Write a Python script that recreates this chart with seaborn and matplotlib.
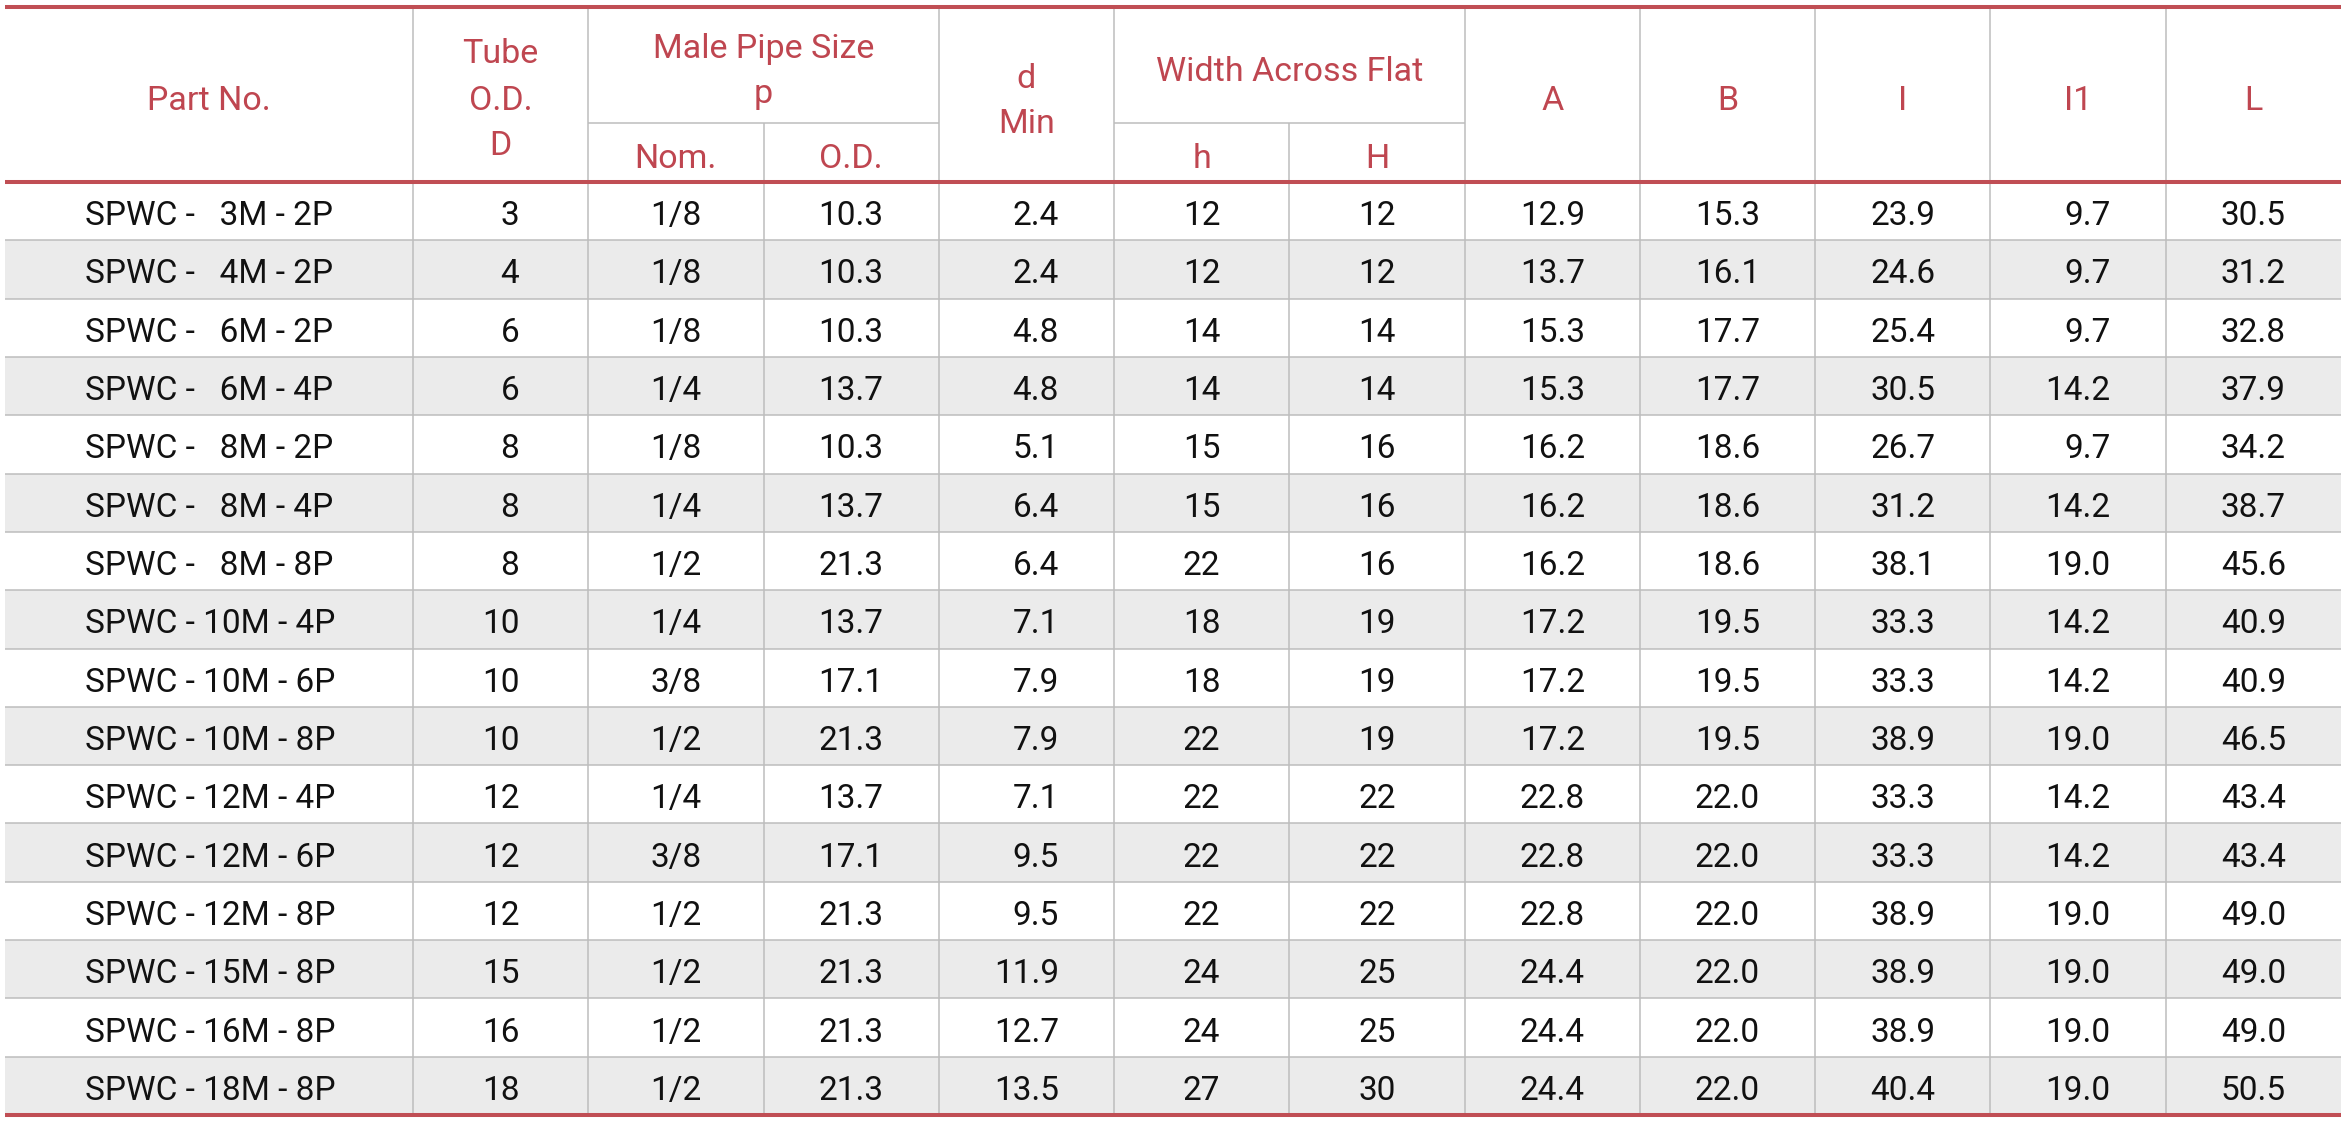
import numpy as np
import pandas as pd
import matplotlib
matplotlib.use("Agg")
import matplotlib.pyplot as plt
import seaborn as sns
from matplotlib.colors import ListedColormap

# Dati della tabella (SPWC)
part_no = ["SPWC -   3M - 2P", "SPWC -   4M - 2P", "SPWC -   6M - 2P", "SPWC -   6M - 4P",
           "SPWC -   8M - 2P", "SPWC -   8M - 4P", "SPWC -   8M - 8P", "SPWC - 10M - 4P",
           "SPWC - 10M - 6P", "SPWC - 10M - 8P", "SPWC - 12M - 4P", "SPWC - 12M - 6P",
           "SPWC - 12M - 8P", "SPWC - 15M - 8P", "SPWC - 16M - 8P", "SPWC - 18M - 8P"]
tube_od = [3, 4, 6, 6, 8, 8, 8, 10, 10, 10, 12, 12, 12, 15, 16, 18]
pipe_nom = ["1/8", "1/8", "1/8", "1/4", "1/8", "1/4", "1/2", "1/4",
            "3/8", "1/2", "1/4", "3/8", "1/2", "1/2", "1/2", "1/2"]
pipe_od = [10.3, 10.3, 10.3, 13.7, 10.3, 13.7, 21.3, 13.7, 17.1, 21.3, 13.7, 17.1, 21.3, 21.3, 21.3, 21.3]
d_min = [2.4, 2.4, 4.8, 4.8, 5.1, 6.4, 6.4, 7.1, 7.9, 7.9, 7.1, 9.5, 9.5, 11.9, 12.7, 13.5]
h_flat = [12, 12, 14, 14, 15, 15, 22, 18, 18, 22, 22, 22, 22, 24, 24, 27]
H_flat = [12, 12, 14, 14, 16, 16, 16, 19, 19, 19, 22, 22, 22, 25, 25, 30]
dim_A = [12.9, 13.7, 15.3, 15.3, 16.2, 16.2, 16.2, 17.2, 17.2, 17.2, 22.8, 22.8, 22.8, 24.4, 24.4, 24.4]
dim_B = [15.3, 16.1, 17.7, 17.7, 18.6, 18.6, 18.6, 19.5, 19.5, 19.5, 22.0, 22.0, 22.0, 22.0, 22.0, 22.0]
dim_I = [23.9, 24.6, 25.4, 30.5, 26.7, 31.2, 38.1, 33.3, 33.3, 38.9, 33.3, 33.3, 38.9, 38.9, 38.9, 40.4]
dim_I1 = [9.7, 9.7, 9.7, 14.2, 9.7, 14.2, 19.0, 14.2, 14.2, 19.0, 14.2, 14.2, 19.0, 19.0, 19.0, 19.0]
dim_L = [30.5, 31.2, 32.8, 37.9, 34.2, 38.7, 45.6, 40.9, 40.9, 46.5, 43.4, 43.4, 49.0, 49.0, 49.0, 50.5]

df = pd.DataFrame({
    "Part No.": part_no,
    "D": [str(v) for v in tube_od],
    "Nom.": pipe_nom,
    "O.D.": [f"{v:.1f}" for v in pipe_od],
    "d": [f"{v:.1f}" for v in d_min],
    "h": [str(v) for v in h_flat],
    "H": [str(v) for v in H_flat],
    "A": [f"{v:.1f}" for v in dim_A],
    "B": [f"{v:.1f}" for v in dim_B],
    "I": [f"{v:.1f}" for v in dim_I],
    "I1": [f"{v:.1f}" for v in dim_I1],
    "L": [f"{v:.1f}" for v in dim_L],
})

sns.set_theme(style="white")
plt.rcParams["font.family"] = ["Roboto", "DejaVu Sans"]

RED = "#C04E54"
RED_TXT = "#BF4650"
GRAY = "#BDBDBD"
SHADE = "#EBEBEB"

# Geometria (pixel)
W, H = 2346, 1122
X_LEFT, X_RIGHT = 5, 2341
PART_W = 408
Y_TOP, Y_SUB, Y_HEAD, Y_BOT = 7, 123, 182, 1115
n_rows = len(df)
n_num = len(df.columns) - 1
col_w = (X_RIGHT - X_LEFT - PART_W) / n_num
row_h = (Y_BOT - Y_HEAD) / n_rows
edges = [X_LEFT, X_LEFT + PART_W] + [X_LEFT + PART_W + col_w * (k + 1) for k in range(n_num)]
centers = [(edges[k] + edges[k + 1]) / 2 for k in range(len(edges) - 1)]

fig = plt.figure(figsize=(W / 100, H / 100), dpi=100)

# Righe alternate con heatmap di seaborn
body_ax = fig.add_axes([X_LEFT / W, 1 - Y_BOT / H, (X_RIGHT - X_LEFT) / W, (Y_BOT - Y_HEAD) / H])
shade = np.array([[i % 2] for i in range(n_rows)])
sns.heatmap(shade, cmap=ListedColormap(["white", SHADE]), cbar=False, ax=body_ax,
            xticklabels=False, yticklabels=False, vmin=0, vmax=1)
body_ax.set_zorder(1)

ax = fig.add_axes([0, 0, 1, 1])
ax.set_xlim(0, W)
ax.set_ylim(H, 0)
ax.axis("off")
ax.patch.set_alpha(0)
ax.set_zorder(2)

gw = 1.1
# linee orizzontali delle righe
for i in range(1, n_rows):
    y = Y_HEAD + i * row_h
    ax.plot([X_LEFT, X_RIGHT], [y, y], color=GRAY, lw=gw, solid_capstyle="butt")
# linee verticali nel corpo
for x in edges[1:-1]:
    ax.plot([x, x], [Y_HEAD, Y_BOT], color=GRAY, lw=gw, solid_capstyle="butt")
# linee verticali intestazione
sub_cols = [edges[3], edges[6]]  # tra Nom./O.D. e h/H
for x in edges[1:-1]:
    y0 = Y_SUB if x in sub_cols else Y_TOP
    ax.plot([x, x], [y0, Y_HEAD], color=GRAY, lw=gw, solid_capstyle="butt")
# linee orizzontali sotto-intestazione
for a, b in [(2, 4), (5, 7)]:
    ax.plot([edges[a], edges[b]], [Y_SUB, Y_SUB], color=GRAY, lw=gw, solid_capstyle="butt")
# linee rosse
for y in [Y_TOP, Y_HEAD, Y_BOT]:
    ax.plot([X_LEFT, X_RIGHT], [y, y], color=RED, lw=2.9, solid_capstyle="butt")

# Intestazione
hfs = 24.5
head_kw = dict(color=RED_TXT, fontsize=hfs, ha="center", va="baseline")
ax.text(centers[0], 110, "Part No.", **head_kw)
for txt, yb in [("Tube", 63), ("O.D.", 110), ("D", 155)]:
    ax.text(centers[1], yb, txt, **head_kw)
mid_pipe = (edges[2] + edges[4]) / 2
ax.text(mid_pipe, 58, "Male Pipe Size", **head_kw)
ax.text(mid_pipe, 103, "p", **head_kw)
ax.text(centers[2], 168, "Nom.", **head_kw)
ax.text(centers[3], 168, "O.D.", **head_kw)
ax.text(centers[4], 88, "d", **head_kw)
ax.text(centers[4], 133, "Min", **head_kw)
mid_flat = (edges[5] + edges[7]) / 2
ax.text(mid_flat, 81, "Width Across Flat", **head_kw)
ax.text(centers[5], 168, "h", **head_kw)
ax.text(centers[6], 168, "H", **head_kw)
for k, lab in zip(range(7, 12), ["A", "B", "I", "I1", "L"]):
    ax.text(centers[k], 110, lab, **head_kw)

# Corpo
bfs = 24
body_kw = dict(color="#111111", fontsize=bfs, fontweight="normal", va="baseline")
renderer = fig.canvas.get_renderer()
for k, col in enumerate(df.columns):
    vals = df[col].tolist()
    if k == 0:
        for i, v in enumerate(vals):
            yb = Y_HEAD + (i + 0.5) * row_h + 14
            ax.text(85, yb, v, ha="left", **body_kw)
        continue
    widest = max(vals, key=len)
    t = ax.text(0, 0, widest, **body_kw)
    bb = t.get_window_extent(renderer=renderer)
    t.remove()
    x_right = centers[k] + bb.width / 2
    for i, v in enumerate(vals):
        yb = Y_HEAD + (i + 0.5) * row_h + 14
        ax.text(x_right, yb, v, ha="right", **body_kw)

fig.savefig("out.png", dpi=100, facecolor="white")
